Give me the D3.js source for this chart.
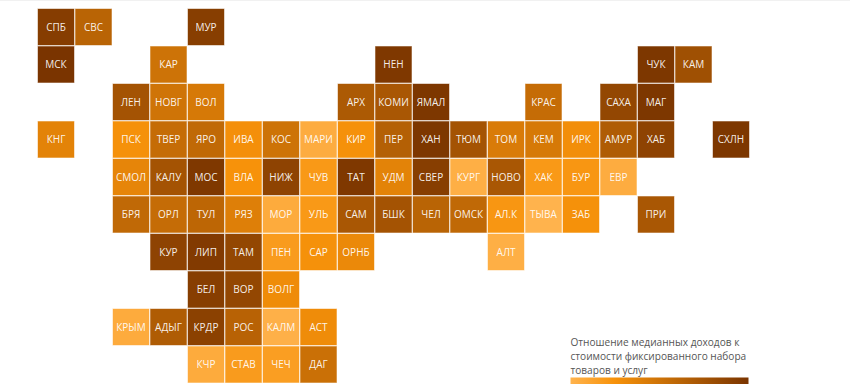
<!DOCTYPE html>
<html><head><meta charset="utf-8">
<script src="https://cdn.jsdelivr.net/npm/d3@7/dist/d3.min.js"></script>
<style>html,body{margin:0;padding:0;background:#fff;overflow:hidden}svg{display:block}</style>
</head><body><svg id="c" width="850" height="384"></svg>
<script>
const tileRows = [
 ["СПБ","СВС",null,null,"МУР"],
 ["МСК",null,null,"КАР",null,null,null,null,null,"НЕН",null,null,null,null,null,null,"ЧУК","КАМ"],
 [null,null,"ЛЕН","НОВГ","ВОЛ",null,null,null,"АРХ","КОМИ","ЯМАЛ",null,null,"КРАС",null,"САХА","МАГ"],
 ["КНГ",null,"ПСК","ТВЕР","ЯРО","ИВА","КОС","МАРИ","КИР","ПЕР","ХАН","ТЮМ","ТОМ","КЕМ","ИРК","АМУР","ХАБ",null,"СХЛН"],
 [null,null,"СМОЛ","КАЛУ","МОС","ВЛА","НИЖ","ЧУВ","ТАТ","УДМ","СВЕР","КУРГ","НОВО","ХАК","БУР","ЕВР"],
 [null,null,"БРЯ","ОРЛ","ТУЛ","РЯЗ","МОР","УЛЬ","САМ","БШК","ЧЕЛ","ОМСК","АЛ.К","ТЫВА","ЗАБ",null,"ПРИ"],
 [null,null,null,"КУР","ЛИП","ТАМ","ПЕН","САР","ОРНБ",null,null,null,"АЛТ"],
 [null,null,null,null,"БЕЛ","ВОР","ВОЛГ"],
 [null,null,"КРЫМ","АДЫГ","КРДР","РОС","КАЛМ","АСТ"],
 [null,null,null,null,"КЧР","СТАВ","ЧЕЧ","ДАГ"]
];
const tileValues = {
 "СПБ":93,"СВС":62,"МУР":92,"МСК":100,"КАР":50,"НЕН":97,"ЧУК":98,"КАМ":78,
 "ЛЕН":75,"НОВГ":49,"ВОЛ":45,"АРХ":70,"КОМИ":72,"ЯМАЛ":98,"КРАС":55,"САХА":85,"МАГ":98,
 "КНГ":37,"ПСК":26,"ТВЕР":55,"ЯРО":58,"ИВА":27,"КОС":50,"МАРИ":5,"КИР":26,"ПЕР":65,"ХАН":98,"ТЮМ":75,"ТОМ":43,"КЕМ":45,"ИРК":28,"АМУР":68,"ХАБ":88,"СХЛН":98,
 "СМОЛ":35,"КАЛУ":75,"МОС":97,"ВЛА":25,"НИЖ":88,"ЧУВ":20,"ТАТ":97,"УДМ":37,"СВЕР":92,"КУРГ":3,"НОВО":72,"ХАК":20,"БУР":22,"ЕВР":5,
 "БРЯ":58,"ОРЛ":55,"ТУЛ":60,"РЯЗ":40,"МОР":6,"УЛЬ":20,"САМ":72,"БШК":75,"ЧЕЛ":62,"ОМСК":58,"АЛ.К":22,"ТЫВА":0,"ЗАБ":26,"ПРИ":72,
 "КУР":88,"ЛИП":95,"ТАМ":85,"ПЕН":18,"САР":26,"ОРНБ":32,"АЛТ":3,
 "БЕЛ":92,"ВОР":85,"ВОЛГ":30,
 "КРЫМ":6,"АДЫГ":68,"КРДР":90,"РОС":63,"КАЛМ":2,"АСТ":30,
 "КЧР":6,"СТАВ":18,"ЧЕЧ":16,"ДАГ":52
};
const colorStops = [0,25,100];
const colorRange = ["#ffb34d","#f7920a","#7a3400"];
const legendLines = ["Отношение медианных доходов к","стоимости фиксированного набора","товаров и услуг"];

const color = d3.scaleLinear().domain(colorStops).range(colorRange);
const svg = d3.select("#c");
const x = d3.scaleBand().domain(d3.range(19)).range([38,38+37.5*19-1.5]).paddingInner(1.5/37.5);
const y = d3.scaleBand().domain(d3.range(10)).range([9,9+37.5*10-1.5]).paddingInner(1.5/37.5);
svg.append("rect").attr("width",850).attr("height",1).attr("fill","#f1f1f1");
const tiles = tileRows.flatMap((r,ri)=>r.map((code,ci)=>({code,ri,ci})).filter(d=>d.code));
const g = svg.selectAll("g.tile").data(tiles).join("g").attr("class","tile")
  .attr("transform",d=>`translate(${x(d.ci)},${y(d.ri)})`);
g.append("rect").attr("width",x.bandwidth()).attr("height",y.bandwidth())
  .attr("fill",d=>color(tileValues[d.code]))
  .attr("stroke",d=>color(tileValues[d.code])).attr("stroke-opacity",0.45);
g.append("text").attr("x",x.bandwidth()/2).attr("y",y.bandwidth()/2).attr("dy","0.35em")
  .attr("text-anchor","middle").attr("fill","#fff").attr("fill-opacity",0.92)
  .style("font","500 10px 'Open Sans'").text(d=>d.code);
const defs = svg.append("defs");
const lg = defs.append("linearGradient").attr("id","lg");
colorStops.forEach(s=>lg.append("stop").attr("offset",s+"%").attr("stop-color",color(s)));
svg.append("rect").attr("x",570.5).attr("y",377.5).attr("width",178).attr("height",12).attr("fill","url(#lg)");
svg.append("g").selectAll("text").data(legendLines).join("text")
  .attr("x",570.5).attr("y",(d,i)=>346+13.9*i).attr("fill","#555")
  .style("font","10.1px 'Open Sans'").text(d=>d);
</script></body></html>
